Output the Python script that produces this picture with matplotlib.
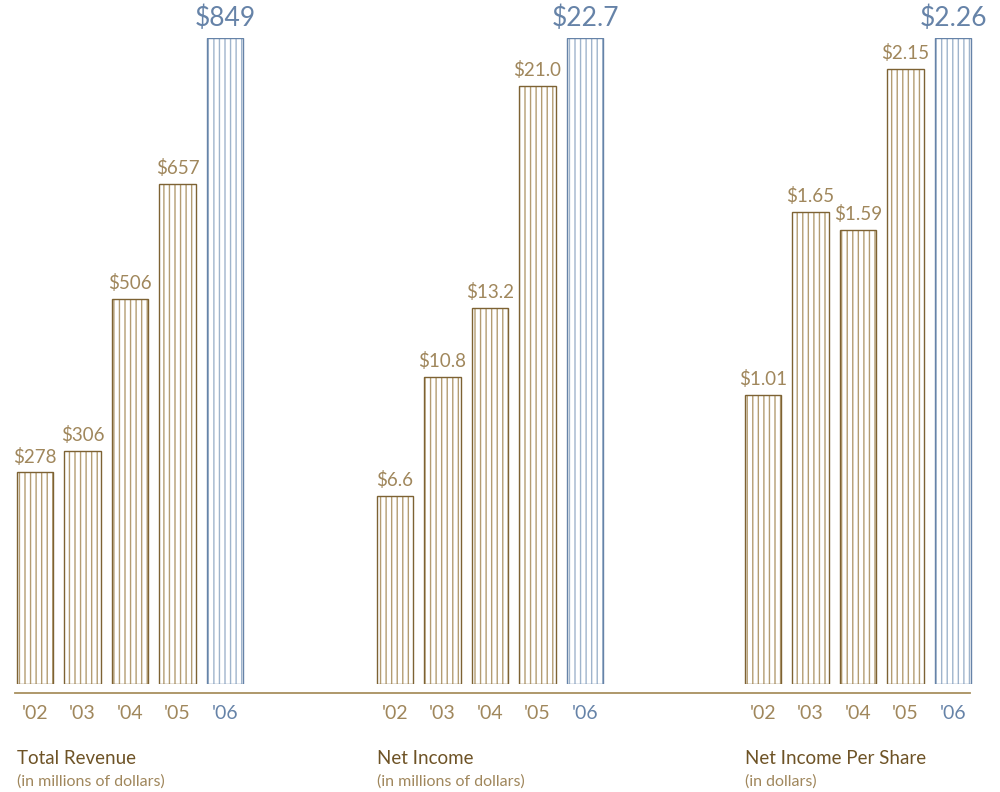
import matplotlib.pyplot as plt
from matplotlib.lines import Line2D

# datos de los tres paneles
years = ["'02", "'03", "'04", "'05", "'06"]
revenue = [278, 306, 506, 657, 849]
net_income = [6.6, 10.8, 13.2, 21.0, 22.7]
eps = [1.01, 1.65, 1.59, 2.15, 2.26]

titles = ["Total Revenue", "Net Income", "Net Income Per Share"]
subtitles = ["(in millions of dollars)", "(in millions of dollars)", "(in dollars)"]
formats = ["${:.0f}", "${:.1f}", "${:.2f}"]

brown = "#7d6233"
tan = "#b39c72"
text_tan = "#a0875c"
blue = "#6683a8"
blue_light = "#9fb4cc"
title_col = "#6e5326"

plt.rcParams["font.family"] = ["Lato", "DejaVu Sans"]
plt.rcParams["hatch.linewidth"] = 1.0

W, H = 1000, 792
fig = plt.figure(figsize=(10, 7.92), dpi=100)

lefts = [11.25, 371.25, 739.25]
bottom_px, top_px = 684, 38

for k, data in enumerate([revenue, net_income, eps]):
    ax = fig.add_axes([lefts[k] / W, (H - bottom_px) / H, 237.5 / W, (bottom_px - top_px) / H])
    ax.set_xlim(-0.5, 4.5)
    ax.set_ylim(0, max(data))
    for i, v in enumerate(data):
        last = i == len(data) - 1
        dark = blue if last else brown
        light = blue_light if last else tan
        ax.bar(i, v, width=0.76, color="white", edgecolor=light, hatch="|||", linewidth=0)
        ax.bar(i, v, width=0.76, fill=False, edgecolor=dark, linewidth=1.0)
        ax.annotate(formats[k].format(v), xy=(i, v), xytext=(0, 5), textcoords="offset points",
                    ha="center", va="bottom", clip_on=False,
                    fontsize=19 if last else 13.5, color=blue if last else text_tan)
    ax.set_xticks(range(5), years)
    ax.tick_params(axis="x", length=0, pad=15, labelsize=14)
    for i, lab in enumerate(ax.get_xticklabels()):
        lab.set_color(blue if i == 4 else text_tan)
    ax.set_yticks([])
    for s in ax.spines.values():
        s.set_visible(False)
    ax.annotate(titles[k], xy=(-0.38, 0), xycoords=ax.get_xaxis_transform(),
                xytext=(0, -53.5), textcoords="offset points", va="center", ha="left",
                fontsize=13.5, color=title_col)
    ax.annotate(subtitles[k], xy=(-0.38, 0), xycoords=ax.get_xaxis_transform(),
                xytext=(0, -70.5), textcoords="offset points", va="center", ha="left",
                fontsize=11.5, color=text_tan)

# linea base
fig.add_artist(Line2D([15 / W, 970 / W], [(H - 693) / H] * 2, color="#a8905f", linewidth=1.3))

fig.savefig("out.png", dpi=100, facecolor="white")
